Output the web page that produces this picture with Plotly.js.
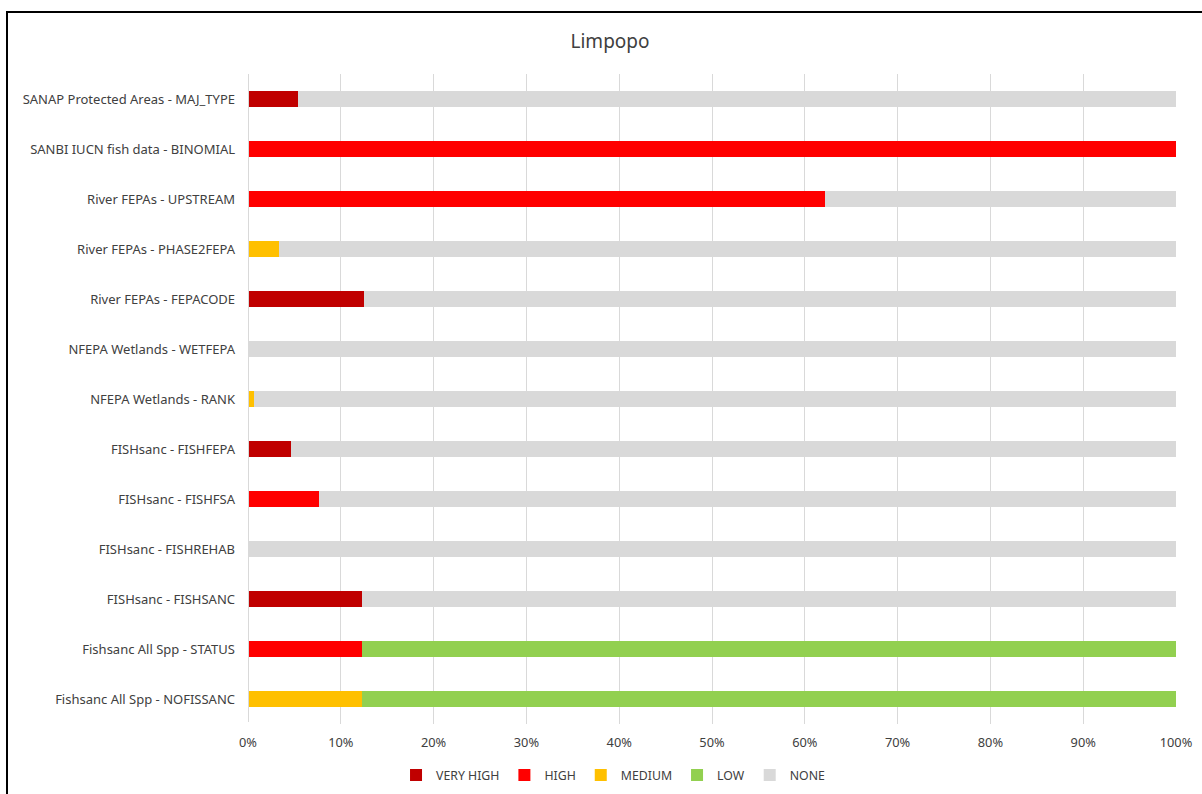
<!DOCTYPE html>
<html>
<head>
<meta charset="utf-8">
<script src="https://cdn.plot.ly/plotly-3.0.1.min.js"></script>
<style>
  html, body { margin: 0; padding: 0; background: #fff; }
  #wrap { position: relative; width: 1202px; height: 794px; }
  #chart { width: 1202px; height: 794px; }
  #frame { position: absolute; left: 6px; top: 11px; width: 1200px; height: 800px;
           border-top: 2px solid #000; border-left: 2px solid #000; pointer-events: none; }
</style>
</head>
<body>
<div id="wrap">
  <div id="chart"></div>
  <div id="frame"></div>
</div>
<script>
// Categories, top to bottom
const categories = [
  "SANAP Protected Areas - MAJ_TYPE",
  "SANBI IUCN fish data - BINOMIAL",
  "River FEPAs - UPSTREAM",
  "River FEPAs - PHASE2FEPA",
  "River FEPAs - FEPACODE",
  "NFEPA Wetlands - WETFEPA",
  "NFEPA Wetlands - RANK",
  "FISHsanc - FISHFEPA",
  "FISHsanc - FISHFSA",
  "FISHsanc - FISHREHAB",
  "FISHsanc - FISHSANC",
  "Fishsanc All Spp - STATUS",
  "Fishsanc All Spp - NOFISSANC"
];
// Percent shares per category (same order)
const veryHigh = [5.4, 0, 0, 0, 12.5, 0, 0, 4.6, 0, 0, 12.3, 0, 0];
const high     = [0, 100, 62.2, 0, 0, 0, 0, 0, 7.7, 0, 0, 12.3, 0];
const medium   = [0, 0, 0, 3.3, 0, 0, 0.6, 0, 0, 0, 0, 0, 12.3];
const low      = [0, 0, 0, 0, 0, 0, 0, 0, 0, 0, 0, 87.7, 87.7];
const none     = [94.6, 0, 37.8, 96.7, 87.5, 100, 99.4, 95.4, 92.3, 100, 87.7, 0, 0];

const seriesNames = ["VERY HIGH", "HIGH", "MEDIUM", "LOW", "NONE"];
const seriesData = [veryHigh, high, medium, low, none];
const seriesColors = ["#C00000", "#FF0000", "#FFC000", "#92D050", "#D9D9D9"];

const xTicks = [0, 10, 20, 30, 40, 50, 60, 70, 80, 90, 100];

const traces = seriesNames.map((name, i) => ({
  type: "bar",
  orientation: "h",
  name: name,
  y: categories,
  x: seriesData[i],
  marker: { color: seriesColors[i], line: { width: 0 } },
  hoverinfo: "name+x"
}));

const font = "Noto Sans, Open Sans, Liberation Sans, sans-serif";
const fs = 12.3;

const layout = {
  width: 1202,
  height: 794,
  paper_bgcolor: "#fff",
  plot_bgcolor: "#fff",
  barmode: "stack",
  bargap: 0.68,
  margin: { l: 248, r: 26, t: 74, b: 70 },
  font: { family: font, size: fs, color: "#404040" },
  title: {
    text: "Limpopo",
    font: { family: font, size: 19, color: "#404040" },
    x: 0.5075, xanchor: "center", xref: "container",
    y: 0.948, yanchor: "middle", yref: "container"
  },
  xaxis: {
    range: [0, 100],
    tickvals: xTicks,
    ticktext: xTicks.map(v => v + "%"),
    showgrid: true,
    gridcolor: "#D9D9D9",
    gridwidth: 1,
    zeroline: false,
    showline: false,
    ticks: "",
    ticklabelstandoff: 9,
    tickfont: { family: font, size: 12.8, color: "#404040" },
    fixedrange: true
  },
  yaxis: {
    type: "category",
    categoryorder: "array",
    categoryarray: categories,
    autorange: "reversed",
    showgrid: false,
    zeroline: false,
    showline: false,
    ticks: "",
    ticklabelstandoff: 12,
    tickfont: { family: font, size: 13, color: "#404040" },
    fixedrange: true
  },
  shapes: [{
    type: "line", xref: "x", yref: "paper",
    x0: 0, x1: 0, y0: 0.003, y1: 1,
    line: { color: "#D9D9D9", width: 2 }
  }],
  legend: {
    orientation: "h",
    xref: "container", yref: "container",
    x: 0.51, xanchor: "center",
    y: 0.024, yanchor: "middle",
    traceorder: "normal",
    itemwidth: 30,
    font: { family: font, size: fs, color: "#404040" }
  },
  showlegend: true
};

Plotly.newPlot("chart", traces, layout, { displayModeBar: false, staticPlot: true });
</script>
</body>
</html>
